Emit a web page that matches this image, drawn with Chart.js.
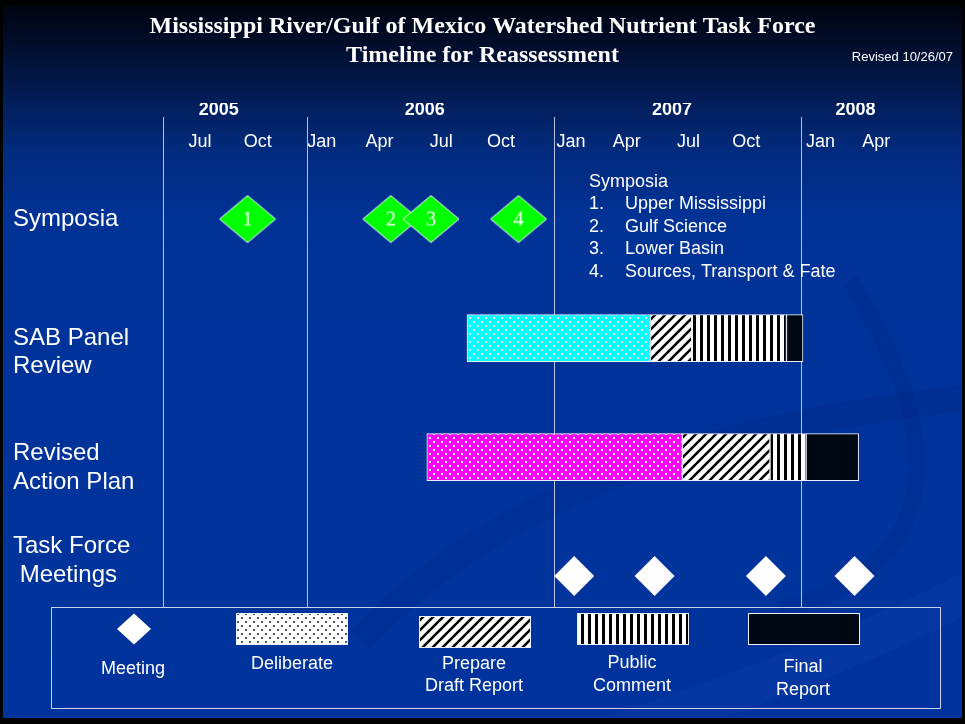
<!DOCTYPE html>
<html>
<head>
<meta charset="utf-8">
<script src="https://cdn.jsdelivr.net/npm/chart.js@4.4.0/dist/chart.umd.min.js"></script>
<style>
  html, body { margin: 0; padding: 0; background: #000; }
  #wrap { width: 965px; height: 724px; }
</style>
</head>
<body>
<div id="wrap"><canvas id="timeline" width="965" height="724"></canvas></div>
<script>
// time is counted in months from Jan 2005 (12 = Jan 2006, 24 = Jan 2007, 36 = Jan 2008)
const rowLabels = [['Symposia'], ['SAB Panel', 'Review'], ['Revised', 'Action Plan'], ['Task Force', ' Meetings']];
const yearLabels = ['2005', '2006', '2007', '2008'];
const yearLabelAt = [7.7, 17.7, 29.7, 38.6];
const yearStarts = [5, 12, 24, 36];
const monthLabels = ['Jul', 'Oct', 'Jan', 'Apr', 'Jul', 'Oct', 'Jan', 'Apr', 'Jul', 'Oct', 'Jan', 'Apr'];
const monthLabelAt = [6.8, 9.6, 12.7, 15.5, 18.5, 21.4, 24.8, 27.5, 30.5, 33.3, 36.9, 39.6];

const symposiaAt = [9.1, 16.05, 18.0, 22.25];
const symposiaNums = ['1', '2', '3', '4'];
const symposiaTopics = ['Upper Mississippi', 'Gulf Science', 'Lower Basin', 'Sources, Transport & Fate'];
const meetingsAt = [24.95, 28.85, 34.25, 38.55];

// phase boundaries: deliberate | draft | public comment | final
const sabPhases = [19.75, 28.65, 30.65, 35.25, 36.05];
const rapPhases = [17.8, 30.2, 34.45, 36.2, 38.75];
const phaseNames = ['Deliberate', 'Prepare\nDraft Report', 'Public\nComment', 'Final\nReport'];

const SANS = '"Liberation Sans", Arial, sans-serif';
const SERIF = '"Liberation Serif", "Times New Roman", serif';
const X_MIN = 5, X_MAX = 42.65;

function makeTile(w, h, paint) {
  const c = document.createElement('canvas');
  c.width = w; c.height = h;
  const g = c.getContext('2d');
  paint(g, w, h);
  return g.createPattern(c, 'repeat');
}
function dots(bg, dot) {
  return makeTile(8, 8, g => {
    g.fillStyle = bg; g.fillRect(0, 0, 8, 8);
    g.fillStyle = dot; g.fillRect(1, 1, 2, 2); g.fillRect(5, 5, 2, 2);
  });
}
const cyanDots = dots('#00ffff', '#ffffff');
const pinkDots = dots('#ff00ff', '#ffffff');
const whiteDots = dots('#ffffff', '#555b66');
const diagonal = makeTile(10, 10, g => {
  g.fillStyle = '#fff'; g.fillRect(0, 0, 10, 10);
  g.strokeStyle = '#000'; g.lineWidth = 2.6;
  g.beginPath();
  g.moveTo(-5, 5); g.lineTo(5, -5);
  g.moveTo(0, 10); g.lineTo(10, 0);
  g.moveTo(5, 15); g.lineTo(15, 5);
  g.stroke();
});
const vertical = makeTile(7, 4, g => {
  g.fillStyle = '#fff'; g.fillRect(0, 0, 7, 4);
  g.fillStyle = '#000'; g.fillRect(0, 0, 3, 4);
});
const finalFill = '#000814';

function greenDiamond(num) {
  const c = document.createElement('canvas');
  c.width = 58; c.height = 49;
  const g = c.getContext('2d');
  g.beginPath();
  g.moveTo(1, 24.5); g.lineTo(29, 1); g.lineTo(57, 24.5); g.lineTo(29, 48); g.closePath();
  g.fillStyle = '#00ff00'; g.fill();
  g.strokeStyle = '#ffffff'; g.lineWidth = 1; g.stroke();
  g.fillStyle = '#ffffff';
  g.font = '21px ' + SERIF;
  g.textAlign = 'center'; g.textBaseline = 'middle';
  g.fillText(num, 29, 25);
  return c;
}

const phaseFills = [[cyanDots, pinkDots], [diagonal, diagonal], [vertical, vertical], [finalFill, finalFill]];
const phaseSets = phaseNames.map((name, k) => ({
  type: 'bar',
  label: name.replace('\n', ' '),
  indexAxis: 'y',
  grouped: false,
  barThickness: 47,
  xAxisID: 'x',
  yAxisID: 'y',
  data: [
    { y: 1, x: [sabPhases[k], sabPhases[k + 1]] },
    { y: 2, x: [rapPhases[k], rapPhases[k + 1]] }
  ],
  backgroundColor: phaseFills[k],
  borderColor: '#eef1fa',
  borderWidth: 1,
  borderSkipped: false
}));

const symposiaSet = {
  type: 'scatter',
  label: 'Symposia',
  xAxisID: 'x',
  yAxisID: 'y',
  data: symposiaAt.map(m => ({ x: m, y: 0 })),
  pointStyle: symposiaNums.map(greenDiamond),
  pointRadius: 25,
  showLine: false
};
const meetingSet = {
  type: 'scatter',
  label: 'Meeting',
  xAxisID: 'x',
  yAxisID: 'y',
  data: meetingsAt.map(m => ({ x: m, y: 3 })),
  pointStyle: 'rectRot',
  pointRadius: 20,
  backgroundColor: '#ffffff',
  borderColor: '#ffffff',
  borderWidth: 0,
  showLine: false
};

const backdrop = {
  id: 'backdrop',
  beforeDraw(chart) {
    const g = chart.ctx;
    g.save();
    g.fillStyle = '#000';
    g.fillRect(0, 0, chart.width, chart.height);
    const grad = g.createLinearGradient(0, 5, 0, 718);
    grad.addColorStop(0, '#000410');
    grad.addColorStop(0.05, '#010c28');
    grad.addColorStop(0.12, '#031a50');
    grad.addColorStop(0.2, '#022a7c');
    grad.addColorStop(0.3, '#013296');
    grad.addColorStop(0.45, '#003399');
    grad.addColorStop(1, '#00339d');
    g.fillStyle = grad;
    g.fillRect(3, 5, 959, 713);
    g.beginPath(); g.rect(3, 5, 959, 713); g.clip();
    g.strokeStyle = 'rgba(0, 25, 105, 0.13)'; g.lineWidth = 26;
    g.beginPath(); g.moveTo(360, 640); g.bezierCurveTo(520, 470, 760, 420, 990, 395); g.stroke();
    g.lineWidth = 16;
    g.beginPath(); g.moveTo(850, 280); g.bezierCurveTo(935, 420, 965, 560, 780, 610); g.stroke();
    g.strokeStyle = 'rgba(40, 80, 190, 0.14)'; g.lineWidth = 40;
    g.beginPath(); g.moveTo(600, 740); g.bezierCurveTo(750, 690, 880, 640, 990, 580); g.stroke();
    g.restore();
  }
};

const notes = {
  id: 'notes',
  afterDraw(chart) {
    const g = chart.ctx;
    g.save();
    g.fillStyle = '#ffffff';
    g.textBaseline = 'middle';
    // symposia list
    g.font = '18px ' + SANS;
    g.textAlign = 'left';
    g.fillText('Symposia', 589, 182);
    symposiaTopics.forEach((t, i) => {
      const y = 204 + i * 22.6;
      g.fillText(symposiaNums[i] + '.', 589, y);
      g.fillText(t, 625, y);
    });
    // revision note
    g.font = '13px ' + SANS;
    g.textAlign = 'right';
    g.fillText('Revised 10/26/07', 953, 57);

    // legend box
    g.strokeStyle = '#c9d2ea'; g.lineWidth = 1;
    g.strokeRect(51.5, 607.5, 889, 101);
    g.beginPath();
    g.moveTo(117, 629); g.lineTo(134, 613.5); g.lineTo(151, 629); g.lineTo(134, 644.5); g.closePath();
    g.fillStyle = '#ffffff'; g.fill();
    const swatches = [
      { fill: whiteDots, x: 236, y: 613, cx: 292, ty: [664] },
      { fill: diagonal, x: 419, y: 616, cx: 474, ty: [664, 686] },
      { fill: vertical, x: 577, y: 613, cx: 632, ty: [663, 686] },
      { fill: finalFill, x: 748, y: 613, cx: 803, ty: [667, 690] }
    ];
    g.font = '18px ' + SANS;
    g.textAlign = 'center';
    g.fillStyle = '#ffffff';
    g.fillText('Meeting', 133, 669);
    swatches.forEach((s, i) => {
      g.fillStyle = s.fill;
      g.fillRect(s.x, s.y, 112, 32);
      g.strokeStyle = '#eef1fa';
      g.strokeRect(s.x + 0.5, s.y + 0.5, 111, 31);
      g.fillStyle = '#ffffff';
      phaseNames[i].split('\n').forEach((line, j) => g.fillText(line, s.cx, s.ty[j]));
    });
    g.restore();
  }
};

const labelNudge = [0, 0.12, 0.09, -0.13];
// keep the plot edges fixed: no label overhang padding from the axes
const noOverhang = s => { s.paddingLeft = 0; s.paddingRight = 0; s.paddingTop = 0; s.paddingBottom = 0; };

new Chart(document.getElementById('timeline'), {
  type: 'bar',
  data: { datasets: [...phaseSets, symposiaSet, meetingSet] },
  options: {
    responsive: false,
    animation: false,
    events: [],
    layout: { padding: { left: 13, right: 13, top: 0, bottom: 117 } },
    plugins: {
      legend: { display: false },
      tooltip: { enabled: false },
      title: {
        display: true,
        text: ['Mississippi River/Gulf of Mexico Watershed Nutrient Task Force', 'Timeline for Reassessment'],
        color: '#ffffff',
        font: { family: SERIF, size: 24, weight: 'bold', lineHeight: 1.21 },
        padding: { top: 12.5, bottom: 32.5 }
      }
    },
    scales: {
      x: {
        type: 'linear', position: 'top', weight: 0, bounds: 'data',
        min: X_MIN, max: X_MAX, beginAtZero: false, offset: false,
        afterBuildTicks: s => { s.ticks = yearStarts.map(v => ({ value: v })); },
        afterFit: noOverhang,
        grid: { color: 'rgba(215, 222, 240, 0.85)', lineWidth: 1, drawTicks: false, offset: false },
        border: { display: false },
        ticks: { display: false }
      },
      xYear: {
        type: 'linear', position: 'top', weight: 1, bounds: 'data',
        min: X_MIN, max: X_MAX, offset: false,
        afterBuildTicks: s => { s.ticks = yearLabelAt.map(v => ({ value: v })); },
        afterFit: noOverhang,
        grid: { display: false, drawTicks: false },
        border: { display: false },
        ticks: {
          color: '#ffffff', padding: -3.8, autoSkip: false, maxRotation: 0,
          font: { family: SANS, size: 18, weight: 'bold', lineHeight: 1.2 },
          callback: (v, i) => yearLabels[i]
        }
      },
      xMonth: {
        type: 'linear', position: { y: -0.738 }, bounds: 'data',
        min: X_MIN, max: X_MAX, offset: false,
        afterBuildTicks: s => { s.ticks = monthLabelAt.map(v => ({ value: v })); },
        afterFit: noOverhang,
        grid: { display: false, drawTicks: false },
        border: { display: false },
        ticks: {
          color: '#ffffff', padding: 0, autoSkip: false, maxRotation: 0,
          font: { family: SANS, size: 18, lineHeight: 1.2 },
          callback: (v, i) => monthLabels[i]
        }
      },
      y: {
        type: 'linear', position: 'left', reverse: true, bounds: 'data',
        min: -0.857, max: 3.26, offset: false, beginAtZero: false,
        afterBuildTicks: s => { s.ticks = rowLabels.map((_, i) => ({ value: i + labelNudge[i] })); },
        afterFit: s => { s.width = 150; noOverhang(s); },
        grid: { display: false, offset: false, drawTicks: false },
        border: { display: false },
        ticks: {
          color: '#ffffff', crossAlign: 'far', autoSkip: false,
          font: { family: SANS, size: 24, lineHeight: 1.2 },
          callback: (v, i) => rowLabels[i]
        }
      }
    }
  },
  plugins: [backdrop, notes]
});
</script>
</body>
</html>
